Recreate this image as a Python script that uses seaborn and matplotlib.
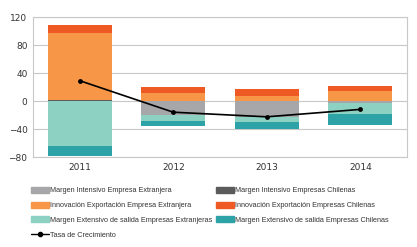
import numpy as np
import pandas as pd
import matplotlib
matplotlib.use("Agg")
import matplotlib.pyplot as plt
import seaborn as sns
from matplotlib.patches import Patch
from matplotlib.lines import Line2D

years = ["2011", "2012", "2013", "2014"]
mi_extranjera = [0.0, -20.0, -23.5, -3.0]
mi_chilenas = [1.5, 0.0, 0.0, 0.0]
innov_extranjera = [95.0, 11.0, 7.5, 14.0]
innov_chilenas = [12.5, 8.5, 9.5, 7.5]
me_extranjeras = [-64.0, -8.7, -7.2, -16.0]
me_chilenas = [-14.5, -6.7, -9.6, -15.0]
tasa = [29.0, -16.0, -22.6, -12.0]

series = [
    ("Margen Intensivo Empresa Extranjera", mi_extranjera, "#a7a7a9"),
    ("Margen Intensivo Empresas Chilenas", mi_chilenas, "#5b5b5b"),
    ("Innovación Exportación Empresa Extranjera", innov_extranjera, "#f79646"),
    ("Innovación Exportación Empresas Chilenas", innov_chilenas, "#ef5a24"),
    ("Margen Extensivo de salida Empresas Extranjeras", me_extranjeras, "#8dd1c3"),
    ("Margen Extensivo de salida Empresas Chilenas", me_chilenas, "#2ea3a7"),
]

sns.set_theme(style="white")
plt.rcParams["font.family"] = ["DejaVu Sans"]

fig = plt.figure(figsize=(4.17, 2.47), dpi=100)
ax = fig.add_axes([33 / 417, 1 - 157 / 247, (407 - 33) / 417, (157 - 17) / 247])

x = np.arange(len(years))
pos_base = np.zeros(len(years))
neg_base = np.zeros(len(years))
for name, vals, color in series:
    vals = np.array(vals, dtype=float)
    bottoms = np.where(vals >= 0, pos_base, neg_base)
    ax.bar(x, vals, bottom=bottoms, width=0.68, color=color, linewidth=0)
    pos_base = pos_base + np.where(vals >= 0, vals, 0)
    neg_base = neg_base + np.where(vals < 0, vals, 0)

sns.lineplot(x=x, y=tasa, ax=ax, color="black", linewidth=1.2,
             marker="o", markersize=3.5, markeredgewidth=0)

ax.set_xlim(-0.5, 3.5)
ax.set_ylim(-80, 120)
ax.set_yticks([-80, -40, 0, 40, 80, 120])
ax.set_xticks(range(len(years)))
ax.set_xticklabels(years)
ax.set_xlabel("")
ax.set_ylabel("")
ax.tick_params(axis="both", labelsize=6.5, colors="#333333", length=0, pad=4)
ax.yaxis.grid(True, color="#c8c8c8", linewidth=0.8)
ax.set_axisbelow(True)
for s in ax.spines.values():
    s.set_color("#c8c8c8")
    s.set_linewidth(0.8)

handles = {n: Patch(color=c, label=n) for n, _, c in series}
names = [s[0] for s in series]
col1 = [handles[names[0]], handles[names[2]], handles[names[4]],
        Line2D([0], [0], color="black", marker="o", markersize=3, linewidth=1,
               label="Tasa de Crecimiento")]
col2 = [handles[names[1]], handles[names[3]], handles[names[5]]]

legkw = dict(loc="upper left", ncol=1, frameon=False,
             prop={"family": ["Liberation Sans"], "size": 5.2},
             handlelength=2.5, handleheight=0.85, handletextpad=0.12,
             labelspacing=1.02, borderaxespad=0, borderpad=0)
leg1 = fig.legend(handles=col1, bbox_to_anchor=(31 / 417, 1 - 187 / 247), **legkw)
leg2 = fig.legend(handles=col2, bbox_to_anchor=(216 / 417, 1 - 187 / 247), **legkw)
for leg in (leg1, leg2):
    for t in leg.get_texts():
        t.set_color("#333333")

fig.savefig("out.png", dpi=100)
